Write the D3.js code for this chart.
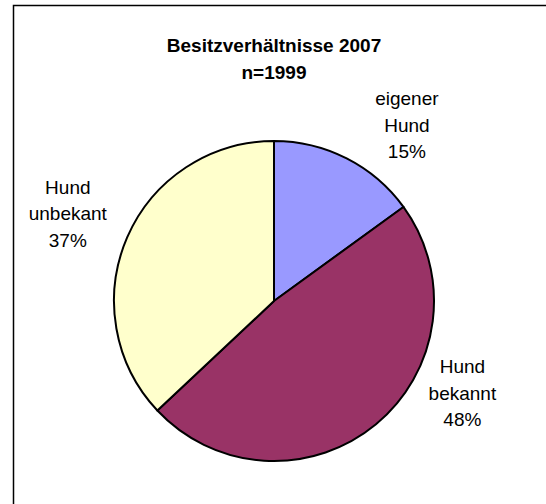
<!DOCTYPE html>
<html>
<head>
<meta charset="utf-8">
<script src="https://cdn.jsdelivr.net/npm/d3@7"></script>
<style>
  html, body { margin: 0; padding: 0; background: #fff; }
  svg { display: block; font-family: "Liberation Sans", Arial, sans-serif; }
</style>
</head>
<body>
<svg id="chart" width="546" height="504"></svg>
<script>
const categories = ["eigener Hund", "Hund bekannt", "Hund unbekant"];
const labelLines = [["eigener", "Hund", "15%"], ["Hund", "bekannt", "48%"], ["Hund", "unbekant", "37%"]];
const values = [15, 48, 37];
const colors = ["#9999FF", "#993366", "#FFFFCC"];
const titleLines = ["Besitzverhältnisse 2007", "n=1999"];

const svg = d3.select("#chart");

// frame (cropped at right and bottom)
svg.append("rect")
  .attr("x", 13.5).attr("y", 5.5)
  .attr("width", 560).attr("height", 560)
  .attr("fill", "#fff").attr("stroke", "#000").attr("stroke-width", 1.5);

// title
const title = svg.append("text")
  .attr("text-anchor", "middle")
  .attr("font-weight", "bold")
  .attr("font-size", 19)
  .attr("fill", "#000");
titleLines.forEach((t, i) => {
  title.append("tspan").attr("x", 274).attr("y", 52 + i * 26.5).text(t);
});

const cx = 274, cy = 301, r = 160;
const pie = d3.pie().sort(null).value(d => d)(values);
const arc = d3.arc().innerRadius(0).outerRadius(r);

const g = svg.append("g").attr("transform", `translate(${cx},${cy})`);
g.selectAll("path.slice")
  .data(pie)
  .join("path")
  .attr("class", "slice")
  .attr("d", arc)
  .attr("fill", (d, i) => colors[i])
  .attr("stroke", "#000")
  .attr("stroke-width", 2)
  .attr("stroke-linejoin", "round");

// label placement: radius factor and angle (degrees, clockwise from top)
const labelPos = [
  { k: 1.38, a: 37 },
  { k: 1.31, a: 116 },
  { k: 1.40, a: 293 }
];
pie.forEach((d, i) => {
  const ang = labelPos[i].a * Math.PI / 180;
  const lr = r * labelPos[i].k;
  const x = Math.sin(ang) * lr;
  const y = -Math.cos(ang) * lr;
  const t = g.append("text")
    .attr("text-anchor", "middle")
    .attr("font-size", 19)
    .attr("fill", "#000");
  const n = labelLines[i].length;
  labelLines[i].forEach((line, j) => {
    t.append("tspan")
      .attr("x", x)
      .attr("y", y + (j - (n - 1) / 2) * 26.5 + 7)
      .text(line);
  });
});
</script>
</body>
</html>
